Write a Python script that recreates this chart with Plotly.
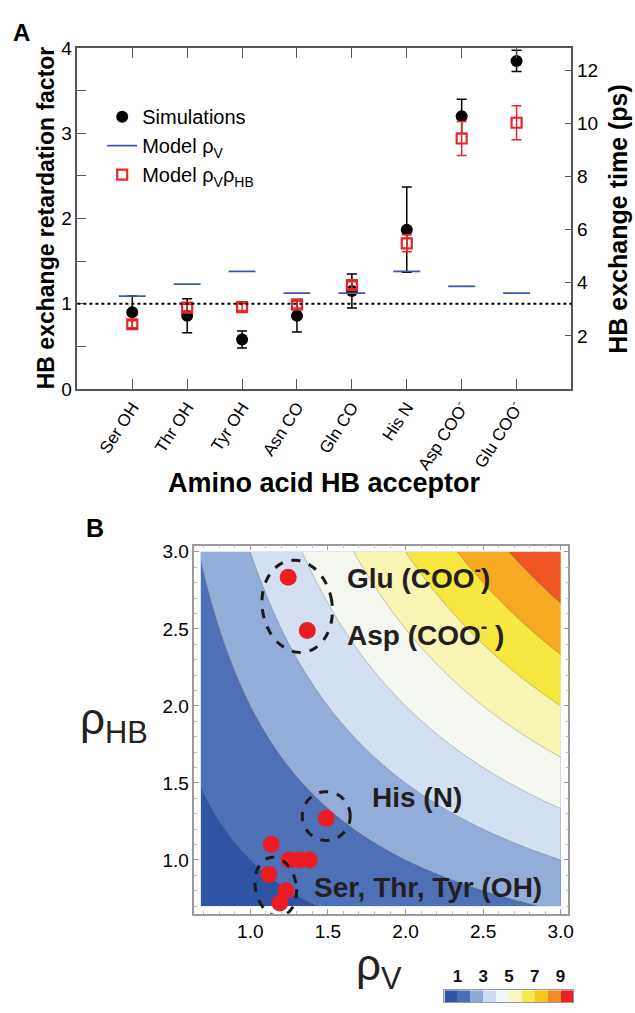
import numpy as np
import plotly.graph_objects as go

W, H = 635, 1013

# ---------------- Panel A data ----------------
CATEGORIES = ["Ser OH", "Thr OH", "Tyr OH", "Asn CO", "Gln CO", "His N",
              "Asp COO<sup>-</sup>", "Glu COO<sup>-</sup>"]
SIM_FACTOR = [0.90, 0.86, 0.58, 0.86, 1.15, 1.87, 3.20, 3.85]
SIM_ERR = [0.19, 0.20, 0.10, 0.19, 0.20, 0.50, 0.20, 0.125]
MODEL_RHO_V = [1.09, 1.23, 1.38, 1.125, 1.125, 1.38, 1.205, 1.125]
MODEL_RHO_V_HB = [0.76, 0.955, 0.96, 0.99, 1.22, 1.71, 2.94, 3.125]
MODEL_RHO_V_HB_ERR = [0.04, 0.04, 0.04, 0.04, 0.04, 0.10, 0.20, 0.20]
TAU_BULK_PS = 3.21          # exchange time corresponding to factor 1
REFERENCE_LEVEL = 1.0
RIGHT_TICKS = [2, 4, 6, 8, 10, 12]

# ---------------- Panel B data ----------------
RHO_V_GRID = np.linspace(0.68, 3.0, 233)
RHO_HB_GRID = np.linspace(0.70, 3.0, 231)
CONTOUR_COLORS = ["#2d55a4", "#4d70b6", "#94acd8", "#d3e0f1", "#f4f6f0",
                  "#f8f4b4", "#f6e841", "#f6a923", "#f05526", "#ec2024"]
COLORBAR_COLORS = ["#2d56a6", "#4a6db5", "#8ea9d8", "#cddcf0", "#eef6f7",
                   "#fbf6c0", "#f4e94a", "#f8c71c", "#f68a24", "#ec2024"]
COLORBAR_LEVELS = [0.5, 1.5, 2.5, 3.5, 4.5, 5.5, 6.5, 7.5, 8.5, 9.5]
COLORBAR_TICKS = [1, 3, 5, 7, 9]
POINT_RHO_V = [1.244, 1.367, 1.49, 1.135, 1.25, 1.315, 1.38, 1.12, 1.23, 1.19]
POINT_RHO_HB = [2.835, 2.49, 1.27, 1.10, 1.0, 1.0, 1.0, 0.905, 0.80, 0.72]
GROUP_LABELS = ["Glu (COO<sup>-</sup>)", "Asp (COO<sup>-</sup> )", "His (N)",
                "Ser, Thr, Tyr (OH)"]
GROUP_LABEL_X = [1.61, 1.61, 1.77, 1.40]
GROUP_LABEL_Y = [2.84, 2.47, 1.405, 0.82]
# dashed ellipses: centre (rhoV, rhoHB), semi-axes in px, tilt in degrees
ELLIPSE_CX = [1.302, 1.489, 1.164]
ELLIPSE_CY = [2.646, 1.285, 0.826]
ELLIPSE_A = [35.0, 24.0, 20.5]
ELLIPSE_B = [47.5, 25.0, 30.5]
ELLIPSE_TILT = [8.5, 0.0, 10.0]

FONT = "Arial, Liberation Sans, sans-serif"


def px_x(p):
    return p / W


def px_y(p):
    return 1 - p / H


def stepped(colors):
    n = len(colors)
    scale = []
    for i, c in enumerate(colors):
        scale.append([i / n, c])
        scale.append([(i + 1) / n, c])
    return scale


fig = go.Figure()

cat_pos = list(range(1, len(CATEGORIES) + 1))

# Simulations
fig.add_trace(go.Scatter(
    x=cat_pos, y=SIM_FACTOR, mode="markers", name="Simulations",
    marker=dict(color="black", size=12, symbol="circle"),
    error_y=dict(type="data", array=SIM_ERR, color="black", thickness=1.5, width=5),
    xaxis="x", yaxis="y"))

# Model rho_V horizontal bars
half = 0.245
bx, by = [], []
for p, v in zip(cat_pos, MODEL_RHO_V):
    bx += [p - half, p + half, None]
    by += [v, v, None]
fig.add_trace(go.Scatter(
    x=bx, y=by, mode="lines", name="Model ρ<sub>V</sub>",
    line=dict(color="#3d5aa9", width=1.8), xaxis="x", yaxis="y"))

# Model rhoV rhoHB
fig.add_trace(go.Scatter(
    x=cat_pos, y=MODEL_RHO_V_HB, mode="markers", name="Model ρ<sub>V</sub>ρ<sub>HB</sub>",
    marker=dict(color="#e8262a", size=10, symbol="square-open",
                line=dict(color="#e8262a", width=2.2)),
    error_y=dict(type="data", array=MODEL_RHO_V_HB_ERR, color="#e8262a",
                 thickness=1.5, width=5),
    xaxis="x", yaxis="y"))

# invisible trace for right axis
fig.add_trace(go.Scatter(
    x=cat_pos, y=[v * TAU_BULK_PS for v in SIM_FACTOR], mode="markers",
    marker=dict(opacity=0), showlegend=False, hoverinfo="skip",
    xaxis="x", yaxis="y4"))

# ---------------- Panel B ----------------
Z = np.outer(RHO_HB_GRID, RHO_V_GRID)
fig.add_trace(go.Contour(
    x=RHO_V_GRID, y=RHO_HB_GRID, z=Z,
    autocontour=False,
    contours=dict(start=1, end=9, size=1, coloring="fill", showlines=True),
    line=dict(color="rgba(90,90,90,0.55)", width=0.6, smoothing=1),
    colorscale=stepped(CONTOUR_COLORS), showscale=False, hoverinfo="skip",
    xaxis="x2", yaxis="y2"))

fig.add_trace(go.Scatter(
    x=POINT_RHO_V, y=POINT_RHO_HB, mode="markers", showlegend=False,
    marker=dict(color="#ec1c24", size=17), xaxis="x2", yaxis="y2"))

# colorbar as heatmap
fig.add_trace(go.Heatmap(
    x=COLORBAR_LEVELS, y=[0], z=[COLORBAR_LEVELS],
    colorscale=stepped(COLORBAR_COLORS), zmin=0, zmax=10, showscale=False,
    hoverinfo="skip", xaxis="x3", yaxis="y3"))

# dashed ellipses
PX_PER_X = 155.5
PX_PER_Y = 158.0
shapes = []
for cx, cy, a, b, tilt in zip(ELLIPSE_CX, ELLIPSE_CY, ELLIPSE_A, ELLIPSE_B, ELLIPSE_TILT):
    t = np.linspace(0, 2 * np.pi, 73)
    th = np.deg2rad(tilt)
    ux = a * np.cos(t)
    uy = b * np.sin(t)
    rx = ux * np.cos(th) - uy * np.sin(th)
    ry = ux * np.sin(th) + uy * np.cos(th)
    xs = cx + rx / PX_PER_X
    ys = cy + ry / PX_PER_Y
    path = "M " + " L ".join(f"{x:.4f},{y:.4f}" for x, y in zip(xs, ys)) + " Z"
    shapes.append(dict(type="path", path=path, xref="x2", yref="y2",
                       line=dict(color="#1a1a1a", width=3, dash="dash")))

shapes.append(dict(type="line", xref="x domain", yref="y", x0=0, x1=1,
                   y0=REFERENCE_LEVEL, y1=REFERENCE_LEVEL,
                   line=dict(color="black", width=2, dash="dot")))


def paper_text(text, x, y, size, angle=0, color="black"):
    return dict(text=text, x=px_x(x), y=px_y(y), xref="paper", yref="paper",
                xanchor="center", yanchor="middle", showarrow=False,
                textangle=angle, font=dict(size=size, color=color))


ann = [
    paper_text("<b>A</b>", 22, 23, 24),
    paper_text("<b>B</b>", 96, 529, 25),
    paper_text("<b>HB exchange retardation factor</b>", 46, 212, 23, -90),
    paper_text("<b>HB exchange time (ps)</b>", 622, 213, 25, -90),
    paper_text("<b>Amino acid HB acceptor</b>", 327, 483, 27),
    paper_text("ρ<sub>HB</sub>", 115, 727, 44, 0, "#222"),
    paper_text("ρ<sub>V</sub>", 382, 978, 44, 0, "#222"),
]
for txt, x, y in zip(GROUP_LABELS, GROUP_LABEL_X, GROUP_LABEL_Y):
    ann.append(dict(text=f"<b>{txt}</b>", x=x, y=y, xref="x2", yref="y2",
                    xanchor="left", yanchor="middle", showarrow=False,
                    font=dict(size=28, color="#231f20")))

axA = dict(showline=True, linecolor="#555", linewidth=1.5, showgrid=False,
           zeroline=False, ticks="inside", tickcolor="#555")
axB = dict(showline=True, linecolor="#9a9a9a", linewidth=1.5, showgrid=False,
           zeroline=False, ticks="inside", tickcolor="#9a9a9a", ticklen=5,
           mirror="allticks", tick0=0, dtick=0.5, tickformat=".1f",
           minor=dict(dtick=0.1, ticks="inside", ticklen=3, tickcolor="#bbb"),
           tickfont=dict(size=19, color="black"))

fig.update_layout(
    width=W, height=H, margin=dict(l=0, r=0, t=0, b=0),
    paper_bgcolor="white", plot_bgcolor="white",
    font=dict(family=FONT, color="black"),
    showlegend=True,
    legend=dict(x=px_x(103), y=px_y(89), xanchor="left", yanchor="top",
                bgcolor="rgba(0,0,0,0)", font=dict(size=20), tracegroupgap=0),
    xaxis=dict(**axA, domain=[px_x(78), px_x(576)], anchor="y", range=[0, 9],
               tickvals=cat_pos, ticktext=CATEGORIES, tickangle=-57, ticklen=10,
               mirror="ticks", tickfont=dict(size=17)),
    yaxis=dict(**axA, domain=[px_y(387), px_y(39)], anchor="x", range=[0, 4],
               tick0=0, dtick=1, ticklen=9,
               minor=dict(dtick=0.5, ticks="inside", ticklen=9, tickcolor="#555"),
               tickfont=dict(size=19)),
    yaxis4=dict(**axA, overlaying="y", side="right", anchor="x",
                range=[0, 4 * TAU_BULK_PS], tickvals=RIGHT_TICKS, ticklen=7,
                tickfont=dict(size=19)),
    xaxis2=dict(**axB, domain=[px_x(196), px_x(573)], anchor="y2", range=[0.64, 3.05]),
    yaxis2=dict(**axB, domain=[px_y(923), px_y(547)], anchor="x2", range=[0.65, 3.04]),
    xaxis3=dict(domain=[px_x(448), px_x(578)], anchor="y3", range=[0, 10],
                side="top", tickvals=COLORBAR_TICKS, ticks="", showgrid=False,
                zeroline=False, showline=True, linecolor="#999", mirror=True,
                tickfont=dict(size=17, weight="bold", color="#111")),
    yaxis3=dict(domain=[0, px_y(1001)], anchor="x3", range=[-0.5, 0.5],
                showticklabels=False, ticks="", showgrid=False, zeroline=False,
                showline=True, linecolor="#999", mirror=True),
    shapes=shapes, annotations=ann,
)

fig.write_html("out.html", config={"displayModeBar": False},
               post_script="document.body.style.margin='0px';"
                           "document.body.style.overflow='hidden';")
